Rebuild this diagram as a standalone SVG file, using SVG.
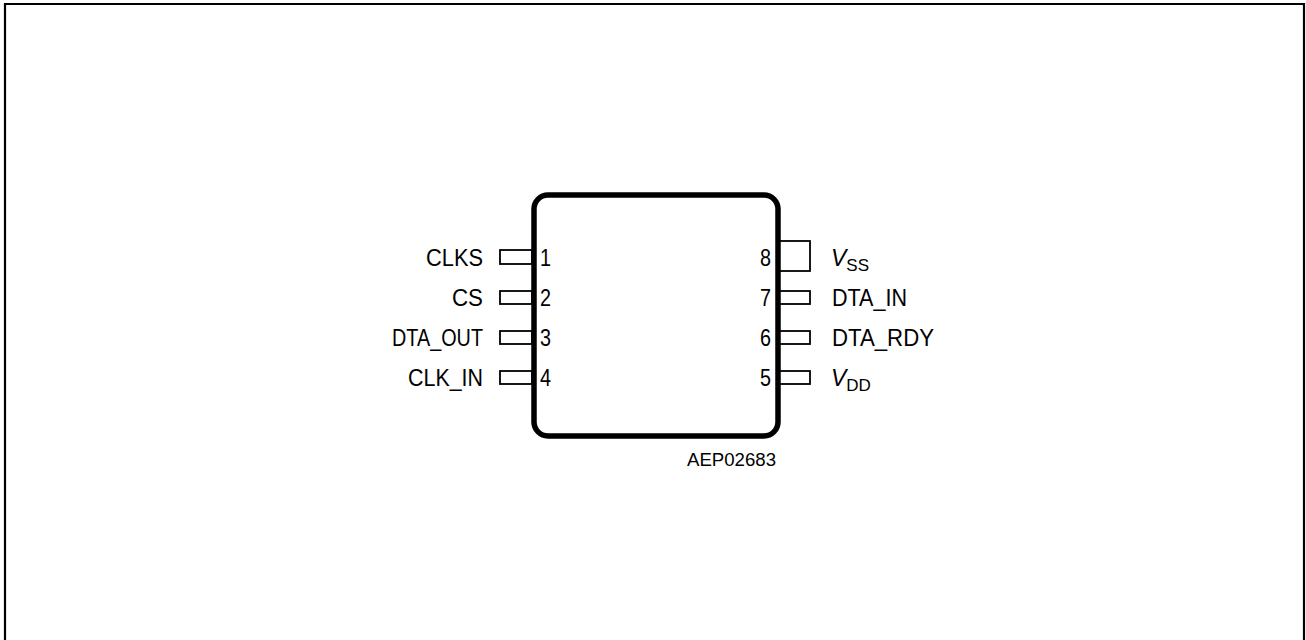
<svg xmlns="http://www.w3.org/2000/svg" width="1306" height="640" viewBox="0 0 1306 640">
<style>
.lbl{font-family:"Liberation Sans",Arial,sans-serif;font-size:23px;fill:#000}
.sub{font-size:17px}
.pin{fill:#fff;stroke:#000;stroke-width:1.8}
.small{font-family:"Liberation Sans",Arial,sans-serif;font-size:18px;fill:#000}
</style>
<rect x="0" y="0" width="1306" height="640" fill="#fff"/>
<path d="M5,640 V4 H1304 V640" fill="none" stroke="#000" stroke-width="2.2"/>
<g id="connectors">
<rect class="pin" x="500" y="250" width="32" height="14"/>
<rect class="pin" x="500" y="291" width="32" height="13"/>
<rect class="pin" x="500" y="331" width="32" height="13"/>
<rect class="pin" x="500" y="371" width="32" height="13"/>
<rect class="pin" x="779" y="241" width="31" height="30"/>
<rect class="pin" x="779" y="291" width="31" height="13"/>
<rect class="pin" x="779" y="331" width="31" height="13"/>
<rect class="pin" x="779" y="371" width="31" height="13"/>
</g>
<g id="chip">
<rect x="534" y="195" width="244" height="241" rx="14" ry="14" fill="#fff" stroke="#000" stroke-width="5.5"/>
</g>
<g id="pin1"><text class="lbl" x="483" y="266" text-anchor="end" textLength="57" lengthAdjust="spacingAndGlyphs">CLKS</text><text class="lbl" x="540" y="266" textLength="11" lengthAdjust="spacingAndGlyphs">1</text></g>
<g id="pin2"><text class="lbl" x="483" y="306" text-anchor="end" textLength="31" lengthAdjust="spacingAndGlyphs">CS</text><text class="lbl" x="540" y="306" textLength="11" lengthAdjust="spacingAndGlyphs">2</text></g>
<g id="pin3"><text class="lbl" x="483" y="346" text-anchor="end" textLength="91" lengthAdjust="spacingAndGlyphs">DTA_OUT</text><text class="lbl" x="540" y="346" textLength="11" lengthAdjust="spacingAndGlyphs">3</text></g>
<g id="pin4"><text class="lbl" x="483" y="386" text-anchor="end" textLength="75" lengthAdjust="spacingAndGlyphs">CLK_IN</text><text class="lbl" x="540" y="386" textLength="11" lengthAdjust="spacingAndGlyphs">4</text></g>
<g id="pin8"><text class="lbl" x="771" y="266" text-anchor="end" textLength="11" lengthAdjust="spacingAndGlyphs">8</text><text class="lbl" x="831" y="266"><tspan font-style="italic">V</tspan><tspan class="sub" dy="5">SS</tspan></text></g>
<g id="pin7"><text class="lbl" x="771" y="306" text-anchor="end" textLength="11" lengthAdjust="spacingAndGlyphs">7</text><text class="lbl" x="832" y="306" textLength="75" lengthAdjust="spacingAndGlyphs">DTA_IN</text></g>
<g id="pin6"><text class="lbl" x="771" y="346" text-anchor="end" textLength="11" lengthAdjust="spacingAndGlyphs">6</text><text class="lbl" x="832" y="346" textLength="102" lengthAdjust="spacingAndGlyphs">DTA_RDY</text></g>
<g id="pin5"><text class="lbl" x="771" y="386" text-anchor="end" textLength="11" lengthAdjust="spacingAndGlyphs">5</text><text class="lbl" x="831" y="386"><tspan font-style="italic">V</tspan><tspan class="sub" dy="5">DD</tspan></text></g>
<g id="code"><text class="small" x="776" y="466" text-anchor="end" textLength="89" lengthAdjust="spacingAndGlyphs">AEP02683</text></g>
</svg>
